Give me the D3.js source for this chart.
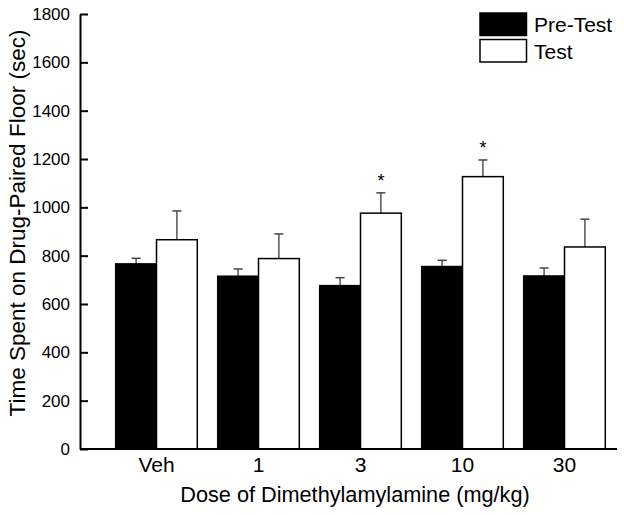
<!DOCTYPE html>
<html>
<head>
<meta charset="utf-8">
<script src="https://cdn.jsdelivr.net/npm/d3@7"></script>
<style>
html,body{margin:0;padding:0;background:#fff;}
svg{display:block;font-family:"Liberation Sans",Arial,sans-serif;}
</style>
</head>
<body>
<svg id="chart" width="624" height="515"></svg>
<script>
const categories = ["Veh", "1", "3", "10", "30"];
const preTest = [766, 715, 676, 755, 716];
const preTestSE = [23, 30, 33, 26, 33];
const test = [866, 788, 976, 1127, 836];
const testSE = [119, 102, 84, 69, 115];
const significant = [false, false, true, true, false];
const yTicks = [0, 200, 400, 600, 800, 1000, 1200, 1400, 1600, 1800];
const seriesNames = ["Pre-Test", "Test"];

const svg = d3.select("#chart");
const axisX = 80, baseY = 449, topY = 14, xEnd = 617;

const y = d3.scaleLinear().domain([0, 1800]).range([baseY, topY]);
const x = d3.scaleBand().domain(categories).range([105.5, 615.5]).paddingInner(0.2).paddingOuter(0.1);
const xs = d3.scaleBand().domain(seriesNames).range([0, x.bandwidth()]);

const rows = categories.map((c, i) => ({
  c,
  vals: [
    {s: "Pre-Test", v: preTest[i], se: preTestSE[i], fill: "#000"},
    {s: "Test", v: test[i], se: testSE[i], fill: "#fff"}
  ],
  sig: significant[i]
}));

const g = svg.append("g");
rows.forEach(r => {
  r.vals.forEach(d => {
    const cx = x(r.c) + xs(d.s) + xs.bandwidth() / 2;
    g.append("line").attr("x1", cx).attr("x2", cx)
      .attr("y1", y(d.v)).attr("y2", y(d.v + d.se))
      .attr("stroke", "#555").attr("stroke-width", 1.5);
    g.append("line").attr("x1", cx - 4.5).attr("x2", cx + 4.5)
      .attr("y1", y(d.v + d.se)).attr("y2", y(d.v + d.se))
      .attr("stroke", "#444").attr("stroke-width", 1.5);
  });
});

rows.forEach(r => {
  r.vals.forEach(d => {
    g.append("rect")
      .attr("x", x(r.c) + xs(d.s))
      .attr("y", y(d.v))
      .attr("width", xs.bandwidth())
      .attr("height", y(0) - y(d.v))
      .attr("fill", d.fill)
      .attr("stroke", "#000").attr("stroke-width", 1.5);
  });
  if (r.sig) {
    const d = r.vals[1];
    const cx = x(r.c) + xs(d.s) + xs.bandwidth() / 2;
    svg.append("text").attr("x", cx).attr("y", y(d.v + d.se) - 6)
      .attr("text-anchor", "middle").attr("font-size", 18).text("*");
  }
});

const yAxis = d3.axisLeft(y).tickValues(yTicks).tickFormat(d3.format("d"))
  .tickSizeInner(-8).tickSizeOuter(0).tickPadding(10);
const ya = svg.append("g").attr("transform", `translate(${axisX},0)`).call(yAxis);
ya.select(".domain").attr("stroke", "#000").attr("stroke-width", 2);
ya.selectAll(".tick line").attr("stroke", "#000").attr("stroke-width", 2);
ya.selectAll(".tick text").attr("font-size", 17).attr("fill", "#000")
  .attr("font-family", "Liberation Sans, Arial, sans-serif").attr("x", -10);

const xAxis = d3.axisBottom(x).tickSize(0).tickPadding(8);
const xa = svg.append("g").attr("transform", `translate(0,${baseY})`).call(xAxis);
xa.select(".domain").remove();
xa.selectAll(".tick text").attr("font-size", 21).attr("fill", "#000")
  .attr("font-family", "Liberation Sans, Arial, sans-serif");
svg.append("line").attr("x1", axisX).attr("x2", xEnd).attr("y1", baseY).attr("y2", baseY)
  .attr("stroke", "#000").attr("stroke-width", 2);

svg.append("text").attr("x", 355).attr("y", 502).attr("text-anchor", "middle")
  .attr("font-size", 21.7).text("Dose of Dimethylamylamine (mg/kg)");
svg.append("text").attr("transform", "translate(25,223) rotate(-90)").attr("text-anchor", "middle")
  .attr("font-size", 22.5).text("Time Spent on Drug-Paired Floor (sec)");

const leg = svg.append("g");
[["Pre-Test", "#000"], ["Test", "#fff"]].forEach(([name, fill], i) => {
  leg.append("rect").attr("x", 480).attr("y", 13 + i * 26.5).attr("width", 46.5).attr("height", 22.5)
    .attr("fill", fill).attr("stroke", "#000").attr("stroke-width", 1.5);
  leg.append("text").attr("x", 534).attr("y", 32 + i * 26.5).attr("font-size", 21).text(name);
});
</script>
</body>
</html>
